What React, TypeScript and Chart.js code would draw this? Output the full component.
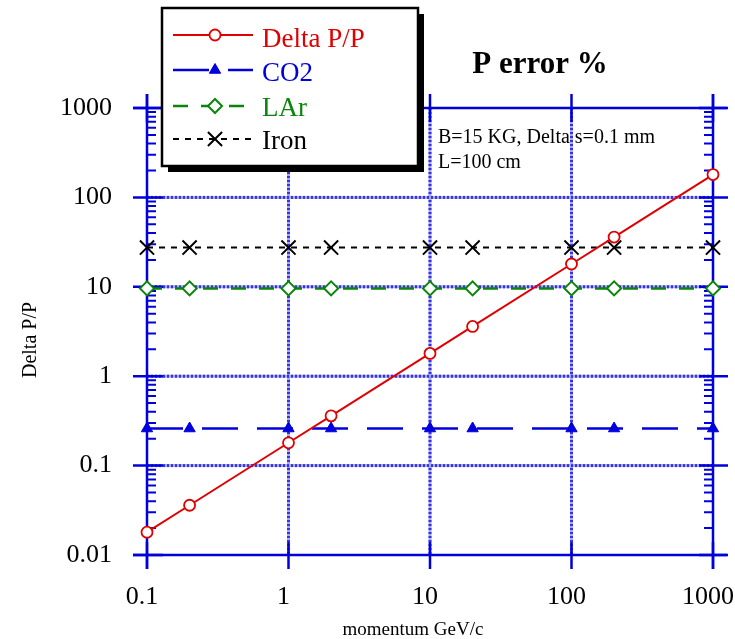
import React, { useEffect, useRef } from 'react';
import { Chart, registerables } from 'chart.js';
import { drawPoint } from 'chart.js/helpers';

Chart.register(...registerables);

// Momentum values (GeV/c) at which each error curve is sampled
const momentum = [0.1, 0.2, 1, 2, 10, 20, 100, 200, 1000];

// Momentum error in percent for each case
const deltaPP = [0.018, 0.036, 0.18, 0.36, 1.8, 3.6, 18, 36, 180];
const co2 = [0.26, 0.26, 0.26, 0.26, 0.26, 0.26, 0.26, 0.26, 0.26];
const lar = [9.6, 9.6, 9.6, 9.6, 9.6, 9.6, 9.6, 9.6, 9.6];
const iron = [27.5, 27.5, 27.5, 27.5, 27.5, 27.5, 27.5, 27.5, 27.5];

// Decade ticks and their labels
const xDecades = [0.1, 1, 10, 100, 1000];
const xTickLabels = ['0.1', '1', '10', '100', '1000'];
const yDecades = [0.01, 0.1, 1, 10, 100, 1000];
const yTickLabels = ['0.01', '0.1', '1', '10', '100', '1000'];

const seriesNames = ['Delta P/P', 'CO2', 'LAr', 'Iron'];

const RED = '#e00000';
const BLUE = '#0000dd';
const GREEN = '#0a850a';
const BLACK = '#000000';
const AXIS = '#0000dd';
const SERIF = '"Liberation Serif", "Times New Roman", serif';

type Style = {
  color: string;
  width: number;
  dash: number[];
  pointStyle: string;
  radius: number;
  pointWidth: number;
  fill: string;
};

const styles: Style[] = [
  { color: RED, width: 2, dash: [], pointStyle: 'circle', radius: 5.5, pointWidth: 1.8, fill: '#ffffff' },
  { color: BLUE, width: 2.5, dash: [36, 19], pointStyle: 'triangle', radius: 6.5, pointWidth: 1, fill: BLUE },
  { color: GREEN, width: 2.5, dash: [15, 13], pointStyle: 'rectRot', radius: 7, pointWidth: 2, fill: '#ffffff' },
  { color: BLACK, width: 2, dash: [6, 6], pointStyle: 'crossRot', radius: 10, pointWidth: 2, fill: BLACK },
];

const seriesValues = [deltaPP, co2, lar, iron];

function labelFor(v: number, decades: number[], labels: string[]) {
  const i = decades.findIndex((d) => Math.abs(Math.log10(v) - Math.log10(d)) < 1e-6);
  return i >= 0 ? labels[i] : '';
}

const frame = {
  id: 'frame',
  beforeDatasetsDraw(chart: any) {
    const { ctx, chartArea: a, scales } = chart;
    const xs = scales.x;
    const ys = scales.y;
    ctx.save();
    // dotted grid at the inner decades
    const gridLine = (x1: number, y1: number, x2: number, y2: number) => {
      ctx.setLineDash([]);
      ctx.strokeStyle = '#a8a8f4';
      ctx.lineWidth = 3;
      ctx.beginPath();
      ctx.moveTo(x1, y1);
      ctx.lineTo(x2, y2);
      ctx.stroke();
      ctx.setLineDash([2, 2]);
      ctx.strokeStyle = '#3434e4';
      ctx.beginPath();
      ctx.moveTo(x1, y1);
      ctx.lineTo(x2, y2);
      ctx.stroke();
    };
    xDecades.slice(1, -1).forEach((d) => {
      const px = xs.getPixelForValue(d);
      gridLine(px, a.top, px, a.bottom);
    });
    yDecades.slice(1, -1).forEach((d) => {
      const py = ys.getPixelForValue(d);
      gridLine(a.left, py, a.right, py);
    });

    // frame lines, extending a little past the corners
    ctx.setLineDash([]);
    ctx.strokeStyle = AXIS;
    ctx.lineWidth = 2.5;
    const ext = 14;
    ctx.beginPath();
    ctx.moveTo(a.left - ext, a.bottom);
    ctx.lineTo(a.right + ext, a.bottom);
    ctx.moveTo(a.left - ext, a.top);
    ctx.lineTo(a.right + ext, a.top);
    ctx.moveTo(a.left, a.top - ext);
    ctx.lineTo(a.left, a.bottom + ext);
    ctx.moveTo(a.right, a.top - ext);
    ctx.lineTo(a.right, a.bottom + ext);
    ctx.stroke();

    // major ticks crossing the frame
    ctx.beginPath();
    xDecades.forEach((d) => {
      const px = xs.getPixelForValue(d);
      ctx.moveTo(px, a.bottom - 13);
      ctx.lineTo(px, a.bottom + 14);
      ctx.moveTo(px, a.top - 14);
      ctx.lineTo(px, a.top + 14);
    });
    yDecades.forEach((d) => {
      const py = ys.getPixelForValue(d);
      ctx.moveTo(a.left - 14, py);
      ctx.lineTo(a.left + 16, py);
      ctx.moveTo(a.right - 14, py);
      ctx.lineTo(a.right + 15, py);
    });
    ctx.stroke();

    // minor ticks on the inner side of the vertical axes
    ctx.lineWidth = 2;
    ctx.beginPath();
    yDecades.slice(0, -1).forEach((d) => {
      for (let k = 2; k <= 9; k++) {
        const py = ys.getPixelForValue(k * d);
        ctx.moveTo(a.left, py);
        ctx.lineTo(a.left + 9, py);
        ctx.moveTo(a.right, py);
        ctx.lineTo(a.right - 9, py);
      }
    });
    ctx.stroke();
    ctx.restore();
  },
  afterDraw(chart: any) {
    const { ctx } = chart;
    ctx.save();

    // axis titles
    ctx.fillStyle = BLACK;
    ctx.textAlign = 'center';
    ctx.textBaseline = 'alphabetic';
    ctx.font = `19px ${SERIF}`;
    ctx.fillText('momentum GeV/c', 413, 635);
    ctx.save();
    ctx.translate(36, 340);
    ctx.rotate(-Math.PI / 2);
    ctx.font = `20px ${SERIF}`;
    ctx.fillText('Delta P/P', 0, 0);
    ctx.restore();

    // title and run parameters
    ctx.font = `bold 31px ${SERIF}`;
    ctx.fillText('P error %', 540, 73);
    ctx.textAlign = 'left';
    ctx.font = `20px ${SERIF}`;
    ctx.fillText('B=15 KG, Delta s=0.1 mm', 438, 143);
    ctx.fillText('L=100 cm', 438, 168);

    // legend box with drop shadow
    const bx = 162, by = 8, bw = 256, bh = 158;
    ctx.fillStyle = BLACK;
    ctx.fillRect(bx + 6, by + 6, bw, bh);
    ctx.fillStyle = '#ffffff';
    ctx.fillRect(bx, by, bw, bh);
    ctx.strokeStyle = BLACK;
    ctx.lineWidth = 2.5;
    ctx.strokeRect(bx, by, bw, bh);

    const lineY = [35, 70, 106, 139];
    const textY = [47, 81, 116, 149];
    styles.forEach((s, i) => {
      ctx.save();
      ctx.strokeStyle = s.color;
      ctx.lineWidth = s.width;
      ctx.setLineDash(s.dash);
      ctx.beginPath();
      ctx.moveTo(173, lineY[i]);
      ctx.lineTo(253, lineY[i]);
      ctx.stroke();
      ctx.setLineDash([]);
      ctx.fillStyle = s.fill;
      ctx.lineWidth = s.pointWidth;
      drawPoint(ctx, { pointStyle: s.pointStyle as any, radius: s.radius, rotation: 0, borderWidth: s.pointWidth }, 215, lineY[i]);
      ctx.restore();
      ctx.fillStyle = s.color;
      ctx.font = `27px ${SERIF}`;
      ctx.textAlign = 'left';
      ctx.fillText(seriesNames[i], 262, textY[i]);
    });
    ctx.restore();
  },
};

export default function App() {
  const canvasRef = useRef<HTMLCanvasElement | null>(null);

  useEffect(() => {
    const canvas = canvasRef.current;
    if (!canvas) return;
    const datasets = seriesValues.map((vals, i) => {
      const s = styles[i];
      return {
        label: seriesNames[i],
        data: momentum.map((m, j) => ({ x: m, y: vals[j] })),
        borderColor: s.color,
        borderWidth: s.width,
        borderDash: s.dash,
        pointStyle: s.pointStyle,
        pointRadius: s.radius,
        pointBorderWidth: s.pointWidth,
        pointBorderColor: s.color,
        pointBackgroundColor: s.fill,
        tension: 0,
        fill: false,
        clip: false as any,
      };
    });

    const chart = new Chart(canvas, {
      type: 'line',
      data: { datasets: datasets as any },
      options: {
        animation: false,
        responsive: false,
        devicePixelRatio: 1,
        layout: { padding: { top: 108, right: 22, left: 0, bottom: 0 } },
        plugins: { legend: { display: false }, tooltip: { enabled: false }, title: { display: false } },
        scales: {
          x: {
            type: 'logarithmic',
            position: 'bottom',
            min: 0.1,
            max: 1000,
            grid: { display: false, drawTicks: false },
            border: { display: false },
            ticks: {
              autoSkip: false,
              maxRotation: 0,
              minRotation: 0,
              padding: 27,
              labelOffset: -5,
              color: BLACK,
              font: { family: SERIF, size: 26 },
              callback: (v: any) => labelFor(Number(v), xDecades, xTickLabels),
            },
            afterFit: (s: any) => {
              s.height = 84;
              s.paddingLeft = 0;
              s.paddingRight = 0;
            },
          },
          y: {
            type: 'logarithmic',
            position: 'left',
            min: 0.01,
            max: 1000,
            grid: { display: false, drawTicks: false },
            border: { display: false },
            ticks: {
              autoSkip: false,
              padding: 35,
              color: BLACK,
              font: { family: SERIF, size: 26 },
              callback: (v: any) => labelFor(Number(v), yDecades, yTickLabels),
            },
            afterFit: (s: any) => {
              s.width = 147;
              s.paddingTop = 0;
              s.paddingBottom = 0;
            },
          },
        },
      },
      plugins: [frame],
    });
    return () => chart.destroy();
  }, []);

  return (
    <div style={{ position: 'absolute', left: 0, top: 0, width: 735, height: 639, background: '#ffffff' }}>
      <canvas ref={canvasRef} width={735} height={639} style={{ display: 'block' }} />
    </div>
  );
}
